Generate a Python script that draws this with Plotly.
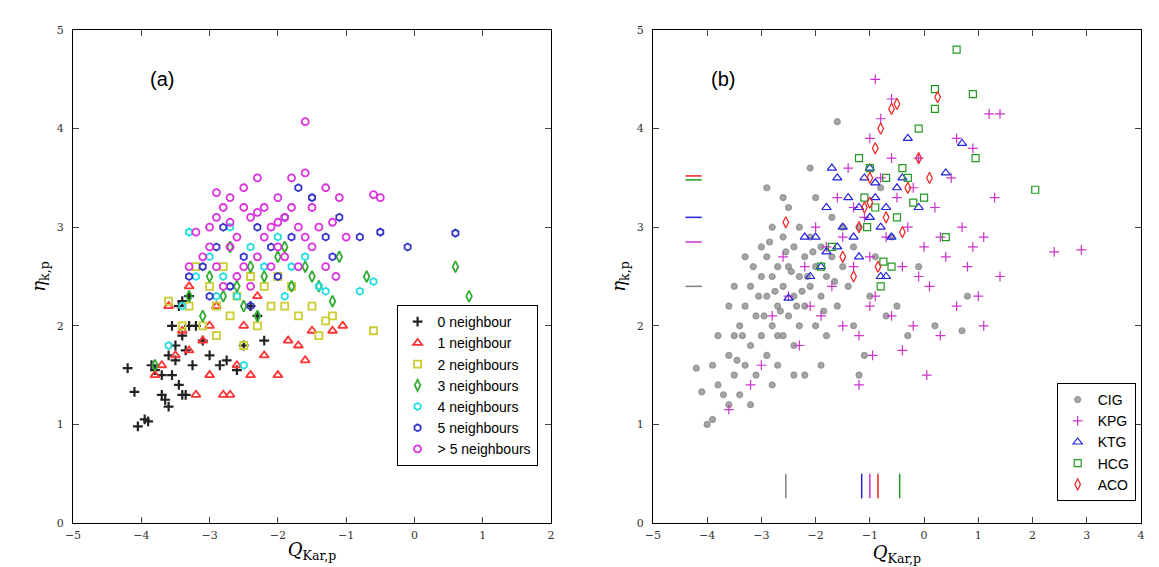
import plotly.graph_objects as go

# ---- panel (a) data: (Q, eta) pairs per neighbour count
n0 = [(-4.2,1.57),(-4.1,1.33),(-4.05,0.98),(-3.95,1.05),(-3.9,1.03),(-3.85,1.6),(-3.8,1.55),(-3.7,1.3),(-3.65,1.25),(-3.6,1.18),(-3.55,1.5),(-3.5,1.65),(-3.45,1.4),(-3.4,1.3),(-3.4,1.9),(-3.45,2.2),(-3.5,1.8),(-3.35,1.75),(-3.3,2.0),(-3.25,1.6),(-3.4,2.25),(-3.3,2.3),(-3.2,2.0),(-3.55,2.0),(-3.6,1.7),(-3.0,1.7),(-2.85,1.6),(-2.75,1.65),(-2.6,1.55),(-2.5,1.8),(-2.4,2.2),(-2.3,2.1),(-2.2,1.85),(-3.1,1.85),(-3.7,1.5),(-3.35,1.3)]
n1 = [(-3.8,1.5),(-3.7,1.6),(-3.5,1.7),(-3.3,1.75),(-3.2,1.3),(-3.0,1.5),(-2.8,1.3),(-2.7,1.3),(-2.6,1.6),(-2.4,1.5),(-2.2,1.7),(-2.0,1.5),(-1.85,1.85),(-1.5,1.95),(-1.2,1.95),(-1.05,2.0),(-1.6,1.65),(-3.3,2.4),(-3.0,2.0),(-2.9,2.2),(-2.5,2.0),(-3.6,2.2),(-3.1,1.85),(-2.3,2.3),(-1.7,1.8),(-3.4,1.95)]
n2 = [(-3.6,2.25),(-3.3,2.2),(-3.1,2.0),(-2.9,1.9),(-2.7,2.1),(-2.5,1.8),(-2.3,2.0),(-2.1,2.2),(-1.9,2.2),(-1.7,2.1),(-1.5,2.2),(-1.3,2.05),(-1.2,2.1),(-0.6,1.95),(-3.0,2.4),(-2.8,2.6),(-2.6,2.3),(-2.4,2.5),(-2.2,2.4),(-3.2,2.6),(-2.0,2.5),(-1.8,2.4),(-3.4,2.0),(-2.9,2.2),(-1.4,1.9)]
n3 = [(-3.8,1.6),(-3.3,2.3),(-3.0,2.5),(-2.8,2.3),(-2.6,2.4),(-2.4,2.6),(-2.2,2.5),(-2.0,2.7),(-1.8,2.4),(-1.6,2.6),(-1.4,2.4),(-1.2,2.25),(-1.1,2.7),(-0.7,2.5),(0.6,2.6),(0.8,2.3),(-2.7,2.8),(-2.5,2.2),(-1.9,2.8),(-1.5,2.5),(-3.1,2.1),(-2.3,2.1)]
n4 = [(-3.6,1.8),(-3.4,2.2),(-3.2,2.5),(-3.0,2.7),(-2.8,2.5),(-2.6,2.3),(-2.5,1.6),(-2.4,2.8),(-2.2,2.6),(-2.0,2.9),(-1.8,2.6),(-1.6,2.7),(-1.4,2.4),(-1.3,2.35),(-0.8,2.35),(-0.6,2.45),(-3.3,2.95),(-2.9,2.3),(-2.7,3.0),(-1.9,2.3)]
n5 = [(-3.3,2.5),(-3.1,2.6),(-2.9,2.8),(-2.7,2.4),(-2.5,2.7),(-2.3,3.0),(-2.1,2.8),(-1.9,3.1),(-1.7,3.4),(-1.5,3.3),(-1.3,2.9),(-1.1,3.1),(-1.2,2.7),(-0.8,2.9),(-0.5,2.95),(-0.1,2.8),(0.6,2.94),(-2.4,2.2),(-2.0,2.5),(-1.8,2.9),(-2.8,3.0),(-3.0,2.3)]
n6 = [(-3.2,2.95),(-3.0,3.0),(-2.9,3.1),(-2.8,3.2),(-2.7,3.3),(-2.6,2.9),(-2.5,3.4),(-2.4,3.1),(-2.3,3.5),(-2.2,3.2),(-2.1,3.0),(-2.0,3.3),(-1.9,3.1),(-1.8,3.5),(-1.7,3.0),(-1.6,4.07),(-1.6,3.55),(-1.5,3.2),(-1.4,3.0),(-1.3,3.4),(-1.2,3.05),(-1.1,3.3),(-1.0,2.9),(-0.6,3.33),(-0.5,3.3),(-3.1,2.7),(-2.9,2.6),(-2.7,2.8),(-2.5,2.6),(-2.3,2.7),(-2.1,2.6),(-1.9,2.7),(-1.7,2.6),(-2.8,2.4),(-2.6,2.5),(-2.4,2.4),(-2.2,2.9),(-2.0,2.8),(-1.8,3.2),(-1.5,2.8),(-2.3,3.15),(-2.7,3.05),(-3.3,2.6),(-1.3,2.6),(-1.15,2.5),(-2.9,3.35),(-2.0,3.05),(-1.6,2.9),(-2.5,3.2),(-3.0,2.8)]

# ---- panel (b) data
cig = [(-4.2,1.57),(-4.1,1.33),(-4.0,1.0),(-3.9,1.05),(-3.9,1.6),(-3.8,1.4),(-3.7,1.3),(-3.6,1.2),(-3.6,1.7),(-3.5,1.5),(-3.5,1.9),(-3.4,1.3),(-3.4,2.0),(-3.3,1.6),(-3.3,2.2),(-3.2,1.8),(-3.2,2.4),(-3.1,1.5),(-3.1,2.1),(-3.0,1.9),(-3.0,2.5),(-3.0,2.8),(-2.9,1.7),(-2.9,2.3),(-2.9,2.7),(-2.8,2.0),(-2.8,2.5),(-2.8,3.0),(-2.7,1.6),(-2.7,2.2),(-2.7,2.6),(-2.6,1.9),(-2.6,2.4),(-2.6,2.9),(-2.5,2.1),(-2.5,2.6),(-2.5,3.2),(-2.4,1.8),(-2.4,2.3),(-2.4,2.8),(-2.3,2.0),(-2.3,2.5),(-2.3,3.0),(-2.2,1.5),(-2.2,2.2),(-2.2,2.7),(-2.1,2.4),(-2.1,2.9),(-2.0,2.0),(-2.0,2.6),(-2.0,3.3),(-1.9,2.3),(-1.9,2.8),(-1.8,1.9),(-1.8,2.5),(-1.7,2.7),(-1.7,3.1),(-1.6,2.2),(-1.5,2.6),(-1.5,3.0),(-1.4,2.4),(-1.3,2.0),(-1.3,2.8),(-1.2,1.5),(-1.2,3.0),(-1.0,2.3),(-0.9,2.7),(-0.8,3.4),(-0.7,2.1),(-0.5,2.2),(-0.3,1.9),(-0.1,2.6),(0.2,2.0),(0.7,1.95),(0.8,2.3),(-1.6,4.07),(-2.9,3.4),(-3.3,2.7),(-3.5,2.4),(-3.8,1.9),(-2.6,3.3),(-1.9,1.6),(-2.8,1.4),(-3.2,1.2),(-2.4,1.5),(-1.1,1.7),(-0.6,2.9),(-2.1,3.6),(-3.6,2.2),(-2.7,1.9),(-3.15,2.6),(-2.95,2.1),(-2.75,2.35),(-2.55,2.75),(-2.35,2.2),(-2.15,2.5),(-2.85,2.85),(-2.65,2.15),(-2.45,2.55),(-3.05,2.3),(-3.35,1.9),(-3.45,1.65),(-2.25,2.35),(-2.05,2.75),(-1.85,2.15),(-1.65,2.45)]
kpg = [(-3.6,1.15),(-3.2,1.4),(-3.0,1.6),(-2.8,2.1),(-2.5,2.3),(-2.3,1.8),(-2.2,2.6),(-2.0,3.0),(-1.8,2.8),(-1.6,3.3),(-1.5,2.0),(-1.4,3.6),(-1.3,2.6),(-1.2,1.9),(-1.1,3.1),(-1.0,2.7),(-1.0,3.9),(-0.9,2.3),(-0.8,3.5),(-0.8,4.1),(-0.7,2.9),(-0.6,2.1),(-0.5,3.3),(-0.4,2.6),(-0.3,3.0),(-0.2,2.0),(-0.1,3.7),(0.0,2.8),(0.1,2.4),(0.2,3.2),(0.3,1.9),(0.4,2.7),(0.5,3.5),(0.6,2.2),(0.7,3.0),(0.8,2.6),(0.9,3.8),(1.0,2.3),(1.1,2.9),(1.2,4.15),(1.3,3.3),(1.4,2.5),(1.4,4.15),(2.4,2.75),(2.9,2.77),(-0.9,4.5),(-0.6,4.3),(-1.7,2.4),(-1.9,2.1),(-1.2,1.4),(-0.95,1.7),(-0.4,1.75),(0.05,1.5),(-2.6,2.7),(-1.5,2.9),(-0.2,3.4),(0.6,3.9),(1.1,2.0),(-2.1,2.2),(-1.0,2.2),(0.3,2.9),(-0.6,3.7),(-1.3,3.2),(0.9,2.8),(-0.1,2.5)]
ktg = [(-2.5,2.28),(-2.1,2.5),(-2.2,2.9),(-2.0,2.9),(-1.9,2.6),(-1.8,3.2),(-1.7,3.6),(-1.6,3.5),(-1.6,2.8),(-1.5,3.0),(-1.4,3.3),(-1.3,2.9),(-1.2,3.2),(-1.1,3.5),(-1.0,3.6),(-1.0,3.1),(-0.9,3.3),(-0.8,3.0),(-0.8,2.5),(-0.7,3.2),(-0.7,2.5),(-0.6,2.9),(-0.5,3.4),(-0.4,3.5),(-0.3,3.9),(-0.1,3.2),(0.4,3.55),(0.7,3.85),(-1.2,2.7),(-0.9,3.45),(-1.8,2.75)]
hcg = [(-1.9,2.6),(-1.7,2.8),(-1.2,3.7),(-1.1,3.3),(-1.0,3.6),(-0.9,3.2),(-0.8,2.4),(-0.7,3.5),(-0.6,2.6),(-0.5,3.1),(-0.4,3.6),(-0.3,3.5),(-0.1,4.0),(0.0,3.3),(0.2,4.4),(0.2,4.2),(0.4,2.9),(0.6,4.8),(0.9,4.35),(0.95,3.7),(2.05,3.38),(-0.75,2.65),(-0.2,3.25),(-1.05,3.0)]
aco = [(-2.55,3.05),(-1.5,2.7),(-1.3,2.5),(-1.2,3.0),(-1.1,3.2),(-1.0,3.5),(-0.9,3.8),(-0.8,4.0),(-0.6,4.2),(-0.5,4.25),(-0.3,3.4),(-0.1,3.7),(0.25,4.32),(0.1,3.5),(-0.7,3.1),(-0.4,2.95),(-1.0,3.25),(-0.85,2.6)]

# mean markers (b): y means shown at left, x means shown at bottom
mean_names = ["CIG", "KPG", "KTG", "HCG", "ACO"]
mean_y = [2.4, 2.85, 3.1, 3.48, 3.52]
mean_x = [-2.55, -1.0, -1.15, -0.45, -0.85]

fig = go.Figure()

sym_a = [
    ("0 neighbour", n0, "cross-thin-open", "#222222", 7),
    ("1 neighbour", n1, "triangle-up-open", "#ff3333", 8),
    ("2 neighbours", n2, "square-open", "#cccc33", 7),
    ("3 neighbours", n3, "diamond-tall-open", "#33aa33", 8),
    ("4 neighbours", n4, "hexagon-open", "#22dddd", 7),
    ("5 neighbours", n5, "hexagon-open", "#3333cc", 7),
    ("> 5 neighbours", n6, "circle-open", "#dd33dd", 7),
]
for name, pts, sym, col, sz in sym_a:
    fig.add_trace(go.Scatter(
        x=[p[0] for p in pts], y=[p[1] for p in pts], mode="markers", name=name,
        marker=dict(symbol=sym, color=col, size=sz, line=dict(width=2.2 if "cross" in sym else 1.8, color=col)),
        xaxis="x", yaxis="y", legend="legend"))

sym_b = [
    ("CIG", cig, "circle", "rgba(128,128,128,0.7)", 6),
    ("KPG", kpg, "cross-thin-open", "#cc33cc", 7),
    ("KTG", ktg, "triangle-up-open", "#2222dd", 8),
    ("HCG", hcg, "square-open", "#229922", 7),
    ("ACO", aco, "diamond-tall-open", "#ee2222", 8),
]
colors_b = {"CIG": "#808080", "KPG": "#cc33cc", "KTG": "#2222dd", "HCG": "#229922", "ACO": "#ee2222"}
for name, pts, sym, col, sz in sym_b:
    fig.add_trace(go.Scatter(
        x=[p[0] for p in pts], y=[p[1] for p in pts], mode="markers", name=name,
        marker=dict(symbol=sym, color=col, size=sz, line=dict(width=1.2, color=col)),
        xaxis="x2", yaxis="y2", legend="legend2"))

for name, my, mx in zip(mean_names, mean_y, mean_x):
    c = colors_b[name]
    fig.add_trace(go.Scatter(x=[-4.4, -4.1], y=[my, my], mode="lines", line=dict(color=c, width=1.5),
                             xaxis="x2", yaxis="y2", showlegend=False))
    fig.add_trace(go.Scatter(x=[mx, mx], y=[0.25, 0.5], mode="lines", line=dict(color=c, width=1.5),
                             xaxis="x2", yaxis="y2", showlegend=False))

ax = dict(showline=True, mirror="ticks", linecolor="black", linewidth=1, ticks="inside",
          ticklen=6, showgrid=False, zeroline=False, tickfont=dict(size=11, color="#333"))
xt = "<i>Q</i><sub>Kar,p</sub>"
yt = "<i>η</i><sub>k,p</sub>"
fig.update_layout(
    width=1159, height=567, plot_bgcolor="white", paper_bgcolor="white",
    margin=dict(l=65, r=26, t=22, b=52),
    font=dict(family="DejaVu Serif", color="black"),
    xaxis=dict(ax, domain=[0, 0.4476], range=[-5, 2], dtick=1, ticklabelstandoff=2,
               title=dict(text=xt, font=dict(size=18), standoff=2)),
    yaxis=dict(ax, range=[0, 5], dtick=1, ticklabelstandoff=6,
               title=dict(text=yt, font=dict(size=18), standoff=6)),
    xaxis2=dict(ax, domain=[0.543, 1], range=[-5, 4], dtick=1, anchor="y2", ticklabelstandoff=2,
                title=dict(text=xt, font=dict(size=18), standoff=2)),
    yaxis2=dict(ax, range=[0, 5], dtick=1, anchor="x2", ticklabelstandoff=6,
                title=dict(text=yt, font=dict(size=18), standoff=6)),
    legend=dict(x=0.435, y=0.442, xanchor="right", yanchor="top", bordercolor="black",
                borderwidth=1, font=dict(family="Liberation Sans", size=14), tracegroupgap=2),
    legend2=dict(x=0.995, y=0.284, xanchor="right", yanchor="top", bordercolor="black",
                 borderwidth=1, font=dict(family="Liberation Sans", size=14)),
    annotations=[
        dict(text="(a)", x=-3.7, y=4.5, xref="x", yref="y", showarrow=False,
             font=dict(family="Liberation Sans", size=20)),
        dict(text="(b)", x=-3.7, y=4.5, xref="x2", yref="y2", showarrow=False,
             font=dict(family="Liberation Sans", size=20)),
    ],
)
fig.write_html("out.html")
